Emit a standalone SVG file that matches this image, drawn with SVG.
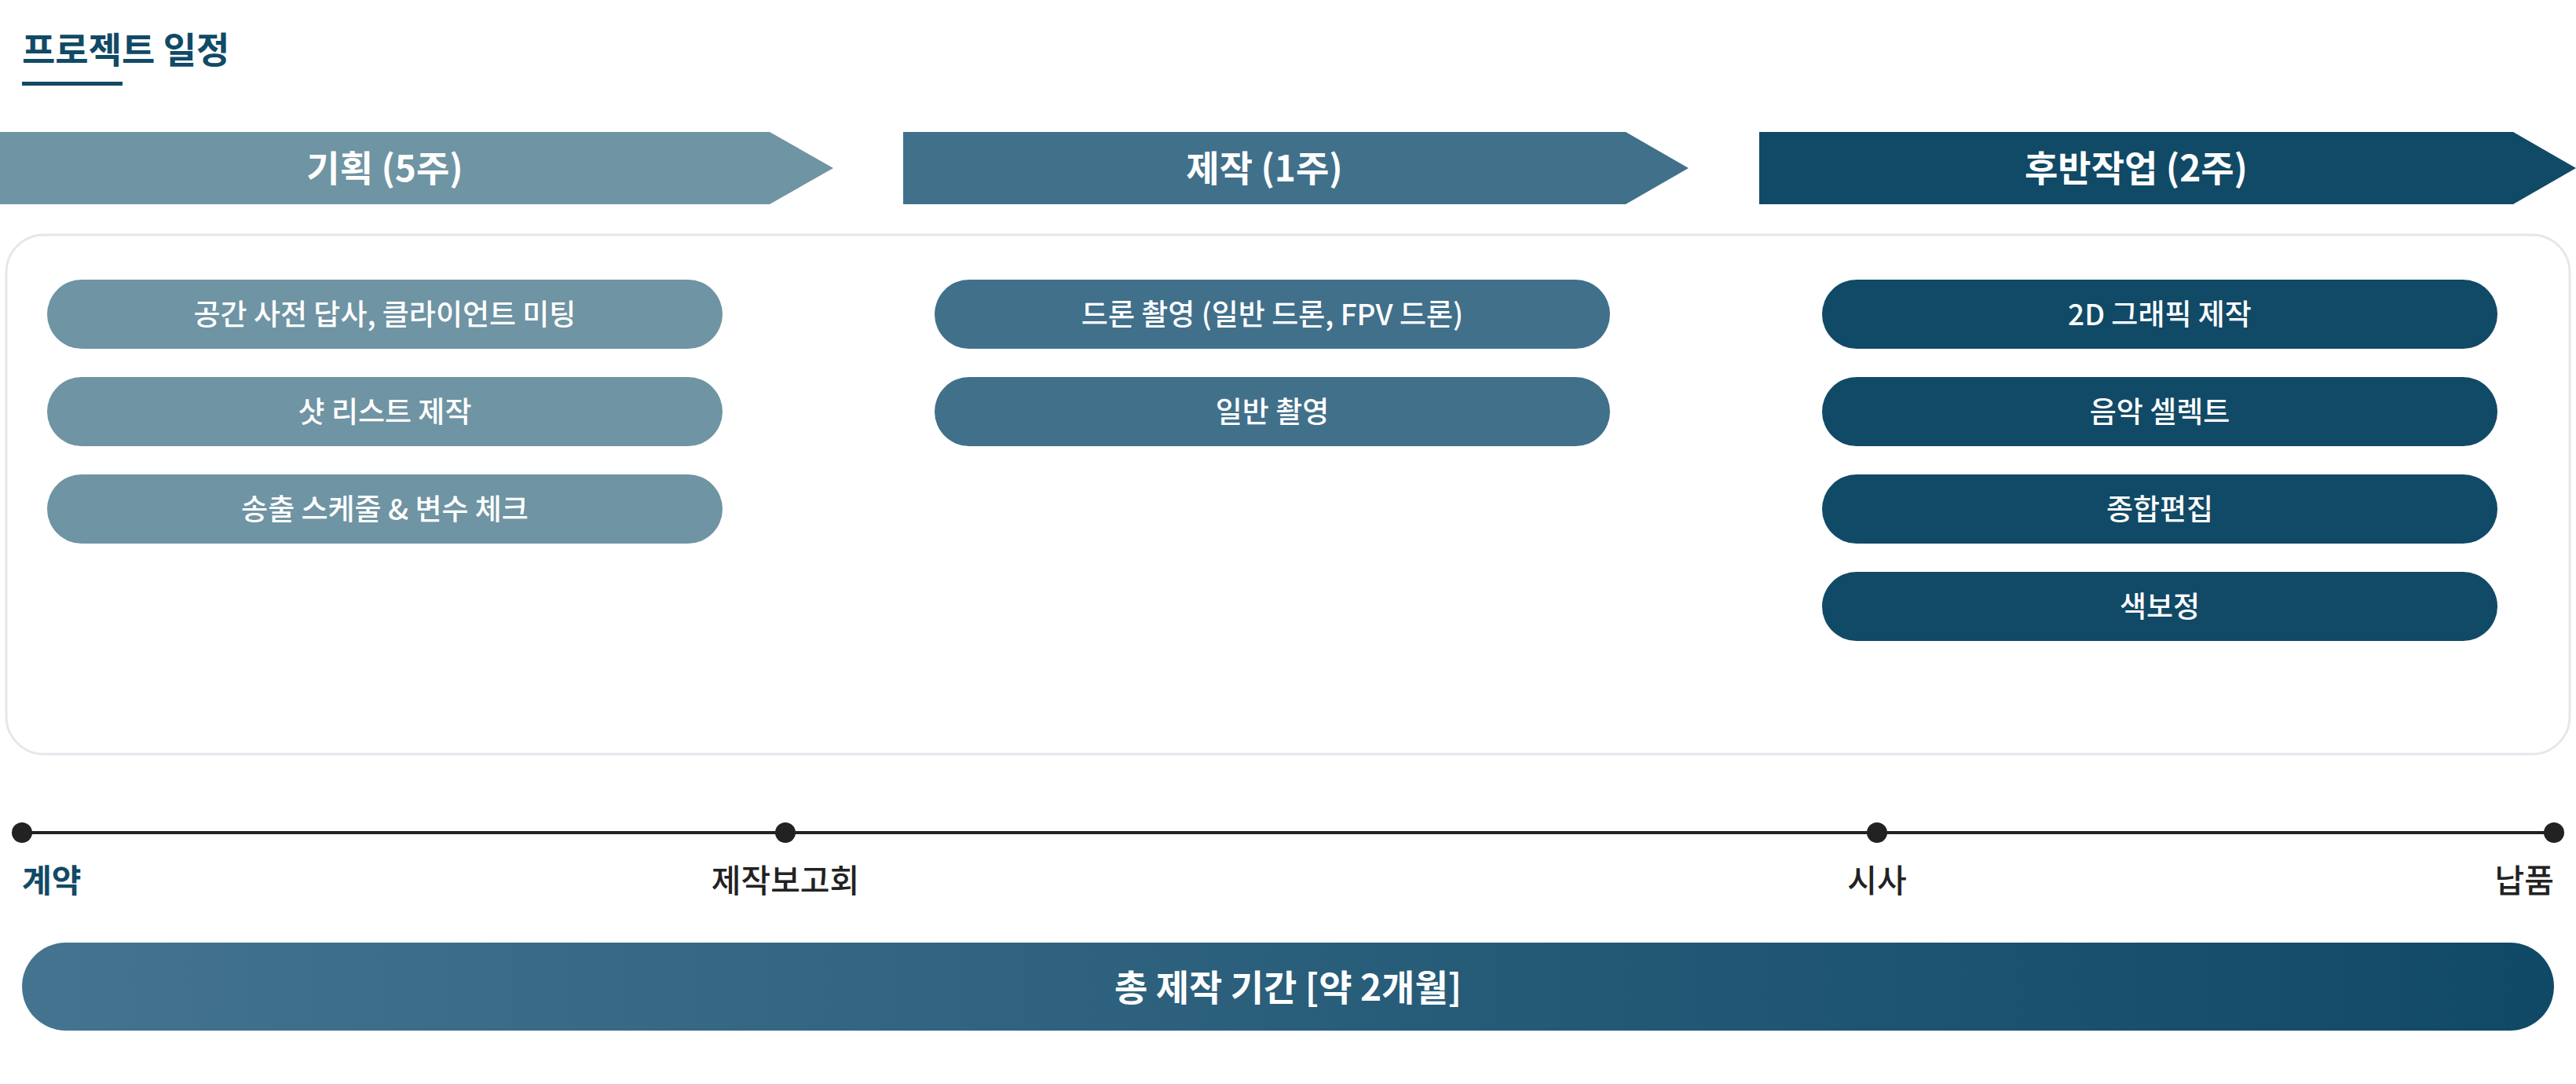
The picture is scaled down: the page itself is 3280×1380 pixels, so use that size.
<svg xmlns="http://www.w3.org/2000/svg" width="3280" height="1380" viewBox="0 0 3280 1380">
<defs>
<linearGradient id="barGrad" x1="0" y1="0" x2="1" y2="0">
<stop offset="0" stop-color="#44748f"/>
<stop offset="1" stop-color="#104966"/>
</linearGradient>
</defs>
<style>
text{font-family:"Noto Sans CJK KR","Noto Sans",sans-serif}
.title{font-size:46px;font-weight:700;fill:#114a66}
.phase{font-size:46px;font-weight:700;fill:#ffffff;text-anchor:middle}
.pill-t{font-size:37px;font-weight:500;fill:#ffffff;text-anchor:middle}
.c1{fill:#6f94a3}
.c2{fill:#41708b}
.c3{fill:#114a66}
.tl{font-size:41px;font-weight:500;fill:#222222;text-anchor:middle}
.dot{fill:#222222}
.total{font-size:46px;font-weight:700;fill:#ffffff;text-anchor:middle}
</style>
<rect width="3280" height="1380" fill="#ffffff"/>

<g id="title">
<text class="title" x="28" y="80">프로젝트 일정</text>
<rect x="28" y="104" width="128" height="5" fill="#114a66"/>
</g>

<g id="phase-planning">
<polygon class="c1" points="0,168 980,168 1061,214 980,260 0,260"/>
<text class="phase" x="490" y="231">기획 (5주)</text>
</g>
<g id="phase-production">
<polygon class="c2" points="1150,168 2070,168 2150,214 2070,260 1150,260"/>
<text class="phase" x="1610" y="231">제작 (1주)</text>
</g>
<g id="phase-post">
<polygon class="c3" points="2240,168 3200,168 3280,214 3200,260 2240,260"/>
<text class="phase" x="2720" y="231">후반작업 (2주)</text>
</g>

<g id="task-container">
<rect x="8" y="299" width="3264" height="661" rx="48" ry="48" fill="none" stroke="#e3e8ec" stroke-width="3"/>
</g>

<g id="task-p1"><rect class="c1" x="60" y="356" width="860" height="88" rx="44"/><text class="pill-t" x="490" y="414">공간 사전 답사, 클라이언트 미팅</text></g>
<g id="task-p2"><rect class="c1" x="60" y="480" width="860" height="88" rx="44"/><text class="pill-t" x="490" y="538">샷 리스트 제작</text></g>
<g id="task-p3"><rect class="c1" x="60" y="604" width="860" height="88" rx="44"/><text class="pill-t" x="490" y="662">송출 스케줄 &amp; 변수 체크</text></g>

<g id="task-m1"><rect class="c2" x="1190" y="356" width="860" height="88" rx="44"/><text class="pill-t" x="1620" y="414">드론 촬영 (일반 드론, FPV 드론)</text></g>
<g id="task-m2"><rect class="c2" x="1190" y="480" width="860" height="88" rx="44"/><text class="pill-t" x="1620" y="538">일반 촬영</text></g>

<g id="task-q1"><rect class="c3" x="2320" y="356" width="860" height="88" rx="44"/><text class="pill-t" x="2750" y="414">2D 그래픽 제작</text></g>
<g id="task-q2"><rect class="c3" x="2320" y="480" width="860" height="88" rx="44"/><text class="pill-t" x="2750" y="538">음악 셀렉트</text></g>
<g id="task-q3"><rect class="c3" x="2320" y="604" width="860" height="88" rx="44"/><text class="pill-t" x="2750" y="662">종합편집</text></g>
<g id="task-q4"><rect class="c3" x="2320" y="728" width="860" height="88" rx="44"/><text class="pill-t" x="2750" y="786">색보정</text></g>

<g id="connectors">
<line x1="28" y1="1060" x2="3252" y2="1060" stroke="#222222" stroke-width="4"/>
</g>

<g id="ms-contract"><circle class="dot" cx="28" cy="1060" r="13"/><text class="tl" x="28" y="1136" style="text-anchor:start;font-weight:700;fill:#114a66">계약</text></g>
<g id="ms-report"><circle class="dot" cx="1000" cy="1060" r="13"/><text class="tl" x="1000" y="1136">제작보고회</text></g>
<g id="ms-preview"><circle class="dot" cx="2390" cy="1060" r="13"/><text class="tl" x="2390" y="1136">시사</text></g>
<g id="ms-delivery"><circle class="dot" cx="3252" cy="1060" r="13"/><text class="tl" x="3252" y="1136" style="text-anchor:end">납품</text></g>

<g id="total-bar">
<rect x="28" y="1200" width="3224" height="112" rx="56" fill="url(#barGrad)"/>
<text class="total" x="1640" y="1274">총 제작 기간 [약 2개월]</text>
</g>
</svg>
